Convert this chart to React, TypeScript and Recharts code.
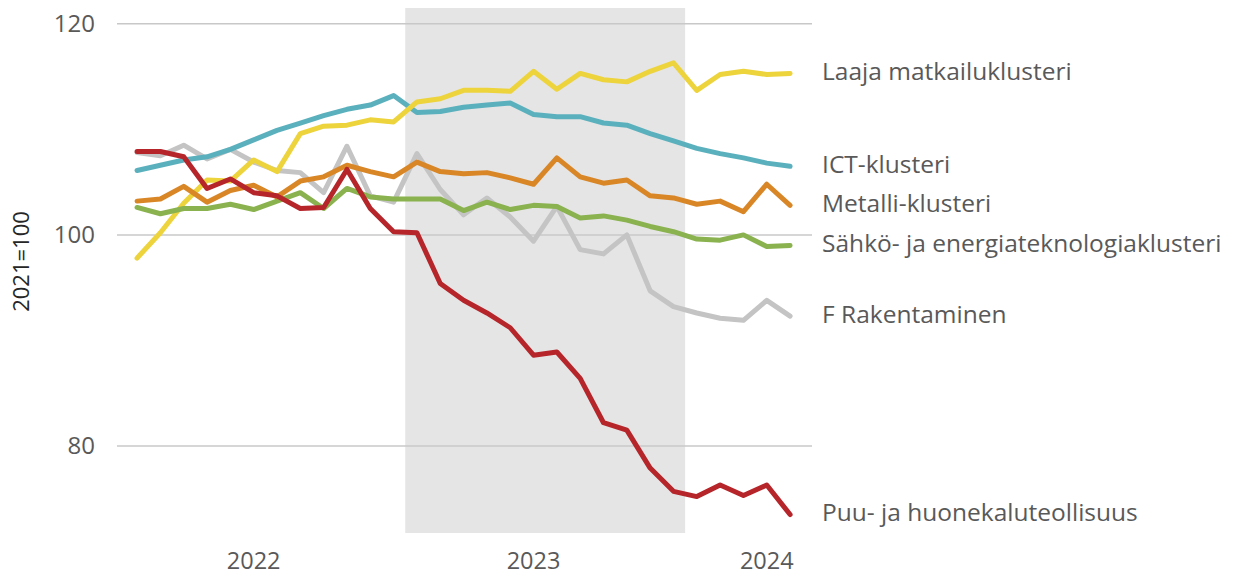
import React from 'react';
import { LineChart, Line, XAxis, YAxis, ReferenceArea, ReferenceLine, LabelList, Label } from 'recharts';

const months = [
  '2022-01', '2022-02', '2022-03', '2022-04', '2022-05', '2022-06', '2022-07', '2022-08', '2022-09', '2022-10', '2022-11', '2022-12',
  '2023-01', '2023-02', '2023-03', '2023-04', '2023-05', '2023-06', '2023-07', '2023-08', '2023-09', '2023-10', '2023-11', '2023-12',
  '2024-01', '2024-02', '2024-03', '2024-04', '2024-05',
];

const rakentaminen = [107.8, 107.5, 108.5, 107.2, 108.1, 106.9, 106.1, 105.9, 104.0, 108.4, 103.7, 103.1, 107.7, 104.3, 101.9, 103.5, 101.7, 99.4, 102.7, 98.6, 98.2, 100.0, 94.7, 93.2, 92.6, 92.1, 91.9, 93.8, 92.3];
const ict = [106.1, 106.6, 107.1, 107.4, 108.1, 109.0, 109.9, 110.6, 111.3, 111.9, 112.3, 113.2, 111.6, 111.7, 112.1, 112.3, 112.5, 111.4, 111.2, 111.2, 110.6, 110.4, 109.6, 108.9, 108.2, 107.7, 107.3, 106.8, 106.5];
const matkailu = [97.8, 100.2, 103.0, 105.2, 105.1, 107.1, 106.0, 109.6, 110.3, 110.4, 110.9, 110.7, 112.6, 112.9, 113.7, 113.7, 113.6, 115.5, 113.8, 115.3, 114.7, 114.5, 115.5, 116.3, 113.7, 115.2, 115.5, 115.2, 115.3];
const sahko = [102.6, 102.0, 102.5, 102.5, 102.9, 102.4, 103.2, 104.0, 102.5, 104.4, 103.6, 103.4, 103.4, 103.4, 102.3, 103.1, 102.4, 102.8, 102.7, 101.6, 101.8, 101.4, 100.8, 100.3, 99.6, 99.5, 100.0, 98.9, 99.0];
const metalli = [103.2, 103.4, 104.6, 103.1, 104.2, 104.7, 103.6, 105.1, 105.5, 106.6, 106.0, 105.5, 106.9, 106.0, 105.8, 105.9, 105.4, 104.8, 107.3, 105.5, 104.9, 105.2, 103.7, 103.5, 102.9, 103.2, 102.2, 104.8, 102.8];
const puu = [107.9, 107.9, 107.4, 104.4, 105.3, 104.0, 103.7, 102.5, 102.6, 106.2, 102.5, 100.3, 100.2, 95.4, 93.8, 92.6, 91.2, 88.6, 88.9, 86.4, 82.2, 81.5, 77.9, 75.7, 75.2, 76.3, 75.3, 76.3, 73.5];

const yTicks = [80, 100, 120];
const yearTickMonths = ['2022-06', '2023-06', '2024-04'];
const yearTickLabels = ['2022', '2023', '2024'];
const shadeStartMonth = '2023-01';
const shadeEndMonth = '2023-12';
const yAxisTitle = '2021=100';

const series = [
  { key: 'rakentaminen', name: 'F Rakentaminen', color: '#C4C4C4', values: rakentaminen },
  { key: 'ict', name: 'ICT-klusteri', color: '#5BB0BD', values: ict },
  { key: 'matkailu', name: 'Laaja matkailuklusteri', color: '#EDD33C', values: matkailu },
  { key: 'sahko', name: 'Sähkö- ja energiateknologiaklusteri', color: '#8AB24F', values: sahko },
  { key: 'metalli', name: 'Metalli-klusteri', color: '#D98627', values: metalli },
  { key: 'puu', name: 'Puu- ja huonekaluteollisuus', color: '#B5252A', values: puu },
];

const data = months.map((m, i) => {
  const row: Record<string, number | string> = { idx: i, month: m };
  series.forEach((s) => {
    row[s.key] = s.values[i];
  });
  return row;
});

const FONT = 'Open Sans, sans-serif';
const TEXT_GRAY = '#595959';
const lastIndex = months.length - 1;

const yearTicks = yearTickMonths.map((m) => months.indexOf(m));
const yearLabelFor = (v: number) => {
  const k = yearTicks.indexOf(v);
  return k >= 0 ? yearTickLabels[k] : '';
};

const makeEndLabel = (name: string) => (props: any) => {
  const { x, y, index } = props;
  if (index !== lastIndex) return null;
  return (
    <text
      x={Number(x) + 32}
      y={Number(y) - 3}
      dominantBaseline="central"
      fill={TEXT_GRAY}
      fontSize={24.5}
      fontFamily={FONT}
    >
      {name}
    </text>
  );
};

export default function App() {
  return (
    <div style={{ position: 'absolute', left: 0, top: 0, width: 1234, height: 576, background: '#ffffff' }}>
      <LineChart width={1234} height={576} data={data} margin={{ top: 8, right: 422, bottom: 0, left: 0 }}>
        <XAxis
          type="number"
          dataKey="idx"
          domain={[-0.86, 28.94]}
          allowDataOverflow
          ticks={yearTicks}
          tickFormatter={yearLabelFor}
          axisLine={false}
          tickLine={false}
          tickSize={0}
          tickMargin={19}
          height={43}
          interval={0}
          tick={{ fill: TEXT_GRAY, fontSize: 23.5, fontFamily: FONT }}
        />
        <YAxis
          type="number"
          domain={[71.75, 121.5]}
          allowDataOverflow
          ticks={yTicks}
          axisLine={false}
          tickLine={false}
          tickSize={0}
          tickMargin={22}
          width={117}
          interval={0}
          tick={{ fill: TEXT_GRAY, fontSize: 24, fontFamily: FONT }}
        >
          <Label
            content={(props: any) => {
              const vb = props.viewBox || {};
              const cx = (vb.x || 0) + 20;
              const cy = (vb.y || 0) + (vb.height || 0) / 2 - 9;
              return (
                <text
                  x={cx}
                  y={cy}
                  transform={`rotate(-90, ${cx}, ${cy})`}
                  textAnchor="middle"
                  dominantBaseline="central"
                  fill="#262626"
                  fontSize={22}
                  fontFamily={FONT}
                >
                  {yAxisTitle}
                </text>
              );
            }}
          />
        </YAxis>
        <ReferenceArea
          x1={months.indexOf(shadeStartMonth) - 0.5}
          x2={months.indexOf(shadeEndMonth) + 0.5}
          fill="#E5E5E5"
          fillOpacity={1}
          stroke="none"
        />
        {yTicks.map((t) => (
          <ReferenceLine key={t} y={t} stroke="#C8C8C8" strokeWidth={1.5} />
        ))}
        {series.map((s) => (
          <Line
            key={s.key}
            type="linear"
            dataKey={s.key}
            name={s.name}
            stroke={s.color}
            strokeWidth={5}
            strokeLinejoin="round"
            strokeLinecap="round"
            dot={false}
            activeDot={false}
            isAnimationActive={false}
          >
            <LabelList dataKey={s.key} content={makeEndLabel(s.name)} />
          </Line>
        ))}
      </LineChart>
    </div>
  );
}
